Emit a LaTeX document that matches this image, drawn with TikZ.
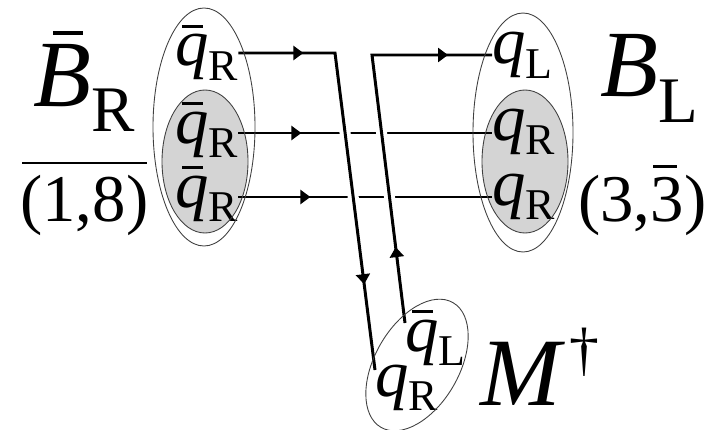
\documentclass[tikz,border=0pt]{standalone}
\usepackage{fontspec}
\setmainfont{Liberation Serif}
\usetikzlibrary{calc,decorations.markings,arrows.meta}

\newcommand{\ovbar}[4]{\makebox[0pt][l]{\hspace{#1}\rule[#2]{#3}{0.045em}}#4}
\newcommand{\qtext}[2]{{\fontsize{38}{38}\selectfont\itshape #1}\raisebox{-8.5pt}{\fontsize{25}{25}\selectfont #2}}
\newcommand{\qbar}{\ovbar{0.1em}{0.57em}{0.31em}{q}}
\newcommand{\bigtext}[3]{{\fontsize{54}{54}\selectfont\itshape #1}\raisebox{-#3}{\fontsize{37}{37}\selectfont #2}}

\begin{document}
\begin{tikzpicture}[x=0.02cm, y=-0.02cm]
        \tikzset{quark/.style={
            inner sep=0pt,
            anchor=base west
        }}
        \tikzset{bag/.style={
            draw=black!75,
            line width=0.5pt
        }}
        \tikzset{core/.style={fill=black!17}}
        \tikzset{flow/.style={line width=1.7pt}}
        \tikzset{tip/.style={
            postaction={decorate, decoration={markings,
                mark=at position #1 with {\arrow{Triangle[length=0.2cm, width=0.28cm]}}}}
        }}
        \tikzset{gap/.style={
            preaction={draw=white, line width=0.22cm, shorten <=0.3cm, shorten >=0.4cm}
        }}
        \useasboundingbox (0,0) rectangle (716,429);

        % grey cores
        \fill[core] (205,161.5) ellipse [x radius=43, y radius=71.5];
        \fill[core] (525,161.5) ellipse [x radius=43, y radius=71.5];

        % quarks
        \node[quark] (qa1) at (175,66) {\qtext{\qbar}{R}};
        \node[quark] (qa2) at (175,143) {\qtext{\qbar}{R}};
        \node[quark] (qa3) at (175,207) {\qtext{\qbar}{R}};
        \node[quark] (qb1) at (492,64) {\qtext{q}{L}};
        \node[quark] (qb2) at (492,140) {\qtext{q}{R}};
        \node[quark] (qb3) at (492,205) {\qtext{q}{R}};
        \node[quark] (mq1) at (405,351) {\qtext{\qbar}{L}};
        \node[quark] (mq2) at (375,396) {\qtext{q}{R}};

        % labels
        \node[quark] (bbar) at (33,107) {\bigtext{\ovbar{0.21em}{0.76em}{0.31em}{B}}{R}{14pt}};
        \node[quark] (rep1) at (20,221) {\fontsize{38}{38}\selectfont (1,8)};
        \node[quark] (bl) at (600,96) {\bigtext{B}{L}{15pt}};
        \node[quark] (rep2) at (578,221) {\fontsize{38}{38}\selectfont (3,\ovbar{0.04em}{0.8em}{0.36em}{3})};
        \node[quark] (mdag) at (480,405) {{\fontsize{55}{55}\selectfont\itshape M}\hspace{5pt}\raisebox{20pt}{\fontsize{34}{34}\selectfont\textdagger}};
        \draw[line width=1.7pt] (22,163) -- (147,163);

        % lines
        \coordinate (k1) at (335,53);
        \coordinate (k2) at (372,55);
        \coordinate (t1) at ([yshift=0.26cm]qa1.base east);
        \coordinate (t2) at ([yshift=0.18cm]qb1.base west);
        \coordinate (m1) at ([yshift=0.2cm]qa2.base east);
        \coordinate (b1) at ([yshift=0.2cm]qa3.base east);
        \coordinate (e1) at ([yshift=0.52cm]mq2.base west);
        \coordinate (e2) at ([yshift=0.56cm]mq1.base west);

        \draw[flow, tip=1.26cm] (m1) -- (m1 -| qb2.west);
        \draw[flow, tip=1.44cm] (b1) -- (b1 -| qb3.west);
        \draw[flow, gap, tip=1.3cm, tip=-1.73cm] (t1) -- (k1 |- t1) -- (e1);
        \draw[flow, gap, tip=1.53cm, tip=-0.88cm] (e2) -- (k2 |- t2) -- (t2);

        % bags
        \draw[bag] (204,127) ellipse [x radius=51, y radius=119];
        \draw[bag] (205,161.5) ellipse [x radius=43, y radius=71.5];
        \draw[bag] (523,132.5) ellipse [x radius=50, y radius=119.5];
        \draw[bag] (525,161.5) ellipse [x radius=43, y radius=71.5];
        \draw[bag, rotate around={60:(417,365)}] (417,365) ellipse [x radius=72, y radius=42];
\end{tikzpicture}
\end{document}
